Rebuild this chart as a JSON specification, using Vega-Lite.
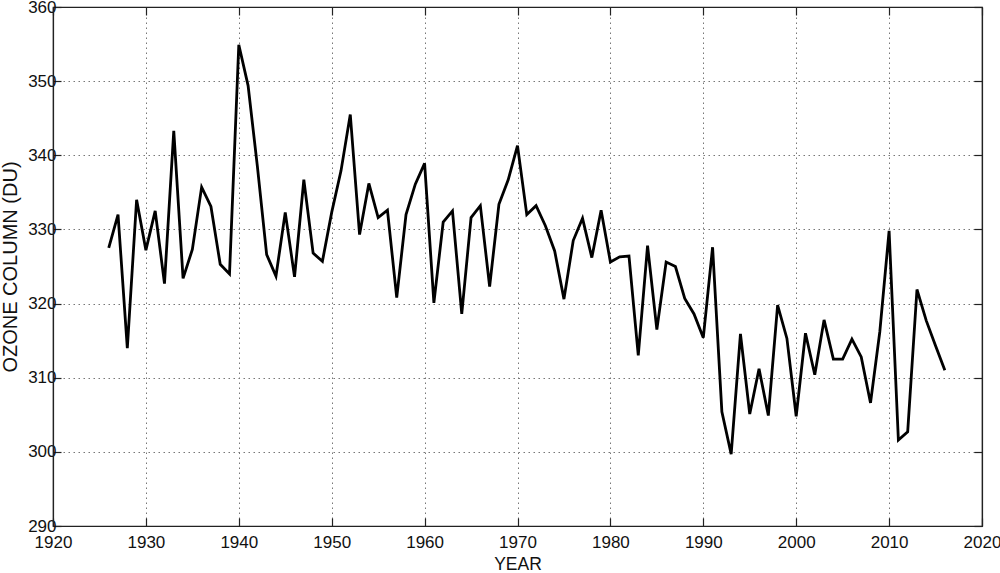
{
  "$schema": "https://vega.github.io/schema/vega-lite/v6.json",
  "autosize": {"type": "none"},
  "padding": {"left": 53, "top": 7, "right": 18, "bottom": 47},
  "width": 929,
  "height": 519,
  "background": "white",
  "config": {
    "view": {"stroke": "#222", "strokeWidth": 1.2},
    "axis": {
      "labelFont": "Liberation Sans",
      "labelFontSize": 17,
      "labelColor": "#111",
      "labelFlush": false,
      "labelOverlap": false,
      "labelBound": false,
      "titleFont": "Liberation Sans",
      "titleFontSize": 17.5,
      "titleFontWeight": "normal",
      "titleColor": "#111",
      "domainColor": "#222",
      "domainWidth": 1.2,
      "tickColor": "#222",
      "tickWidth": 1.2,
      "gridColor": "#777",
      "gridDash": [1.5, 3.5],
      "gridWidth": 1,
      "gridOpacity": 1
    }
  },
  "data": {
    "values": [
      {"year": 1926, "ozone": 327.5}, {"year": 1927, "ozone": 332.0}, {"year": 1928, "ozone": 314.0},
      {"year": 1929, "ozone": 334.0}, {"year": 1930, "ozone": 327.2}, {"year": 1931, "ozone": 332.5},
      {"year": 1932, "ozone": 322.7}, {"year": 1933, "ozone": 343.3}, {"year": 1934, "ozone": 323.4},
      {"year": 1935, "ozone": 327.3}, {"year": 1936, "ozone": 335.7}, {"year": 1937, "ozone": 333.1},
      {"year": 1938, "ozone": 325.3}, {"year": 1939, "ozone": 324.0}, {"year": 1940, "ozone": 354.9},
      {"year": 1941, "ozone": 349.4}, {"year": 1942, "ozone": 338.5}, {"year": 1943, "ozone": 326.6},
      {"year": 1944, "ozone": 323.7}, {"year": 1945, "ozone": 332.3}, {"year": 1946, "ozone": 323.6},
      {"year": 1947, "ozone": 336.7}, {"year": 1948, "ozone": 326.8}, {"year": 1949, "ozone": 325.7},
      {"year": 1950, "ozone": 332.3}, {"year": 1951, "ozone": 337.9}, {"year": 1952, "ozone": 345.5},
      {"year": 1953, "ozone": 329.3}, {"year": 1954, "ozone": 336.2}, {"year": 1955, "ozone": 331.6},
      {"year": 1956, "ozone": 332.6}, {"year": 1957, "ozone": 320.8}, {"year": 1958, "ozone": 332.0},
      {"year": 1959, "ozone": 336.1}, {"year": 1960, "ozone": 338.9}, {"year": 1961, "ozone": 320.1},
      {"year": 1962, "ozone": 331.0}, {"year": 1963, "ozone": 332.5}, {"year": 1964, "ozone": 318.6},
      {"year": 1965, "ozone": 331.6}, {"year": 1966, "ozone": 333.2}, {"year": 1967, "ozone": 322.3},
      {"year": 1968, "ozone": 333.4}, {"year": 1969, "ozone": 336.7}, {"year": 1970, "ozone": 341.3},
      {"year": 1971, "ozone": 332.0}, {"year": 1972, "ozone": 333.2}, {"year": 1973, "ozone": 330.5},
      {"year": 1974, "ozone": 327.1}, {"year": 1975, "ozone": 320.6}, {"year": 1976, "ozone": 328.5},
      {"year": 1977, "ozone": 331.5}, {"year": 1978, "ozone": 326.2}, {"year": 1979, "ozone": 332.6},
      {"year": 1980, "ozone": 325.6}, {"year": 1981, "ozone": 326.3}, {"year": 1982, "ozone": 326.4},
      {"year": 1983, "ozone": 313.0}, {"year": 1984, "ozone": 327.8}, {"year": 1985, "ozone": 316.5},
      {"year": 1986, "ozone": 325.6}, {"year": 1987, "ozone": 325.0}, {"year": 1988, "ozone": 320.7},
      {"year": 1989, "ozone": 318.6}, {"year": 1990, "ozone": 315.4}, {"year": 1991, "ozone": 327.6},
      {"year": 1992, "ozone": 305.4}, {"year": 1993, "ozone": 299.7}, {"year": 1994, "ozone": 315.9},
      {"year": 1995, "ozone": 305.1}, {"year": 1996, "ozone": 311.2}, {"year": 1997, "ozone": 304.9},
      {"year": 1998, "ozone": 319.8}, {"year": 1999, "ozone": 315.3}, {"year": 2000, "ozone": 304.8},
      {"year": 2001, "ozone": 316.0}, {"year": 2002, "ozone": 310.4}, {"year": 2003, "ozone": 317.8},
      {"year": 2004, "ozone": 312.5}, {"year": 2005, "ozone": 312.5}, {"year": 2006, "ozone": 315.2},
      {"year": 2007, "ozone": 312.8}, {"year": 2008, "ozone": 306.6}, {"year": 2009, "ozone": 316.2},
      {"year": 2010, "ozone": 329.8}, {"year": 2011, "ozone": 301.6}, {"year": 2012, "ozone": 302.7},
      {"year": 2013, "ozone": 321.9}, {"year": 2014, "ozone": 317.7}, {"year": 2015, "ozone": 314.3},
      {"year": 2016, "ozone": 311.0}
    ]
  },
  "layer": [
    {
      "mark": {"type": "line", "color": "black", "strokeWidth": 2.8, "strokeJoin": "miter", "clip": true},
      "encoding": {
        "x": {
          "field": "year", "type": "quantitative",
          "scale": {"domain": [1920, 2020], "nice": false, "zero": false},
          "axis": {"title": "YEAR", "orient": "bottom", "values": [1920, 1930, 1940, 1950, 1960, 1970, 1980, 1990, 2000, 2010, 2020], "format": "d", "tickSize": -8, "labelPadding": 16, "titlePadding": 5, "grid": true}
        },
        "y": {
          "field": "ozone", "type": "quantitative",
          "scale": {"domain": [290, 360], "nice": false, "zero": false},
          "axis": {"title": "OZONE COLUMN (DU)", "titleFontSize": 20, "orient": "left", "values": [290, 300, 310, 320, 330, 340, 350, 360], "tickSize": -8, "labelPadding": 5, "titlePadding": 7, "grid": true}
        }
      }
    },
    {
      "mark": {"type": "line", "strokeOpacity": 0},
      "encoding": {
        "x": {
          "field": "year", "type": "quantitative",
          "axis": {"title": null, "orient": "top", "values": [1920, 1930, 1940, 1950, 1960, 1970, 1980, 1990, 2000, 2010, 2020], "labels": false, "tickSize": -8, "grid": false}
        },
        "y": {
          "field": "ozone", "type": "quantitative",
          "axis": {"title": null, "orient": "right", "values": [290, 300, 310, 320, 330, 340, 350, 360], "labels": false, "tickSize": -8, "grid": false}
        }
      }
    }
  ],
  "resolve": {"axis": {"x": "independent", "y": "independent"}}
}
